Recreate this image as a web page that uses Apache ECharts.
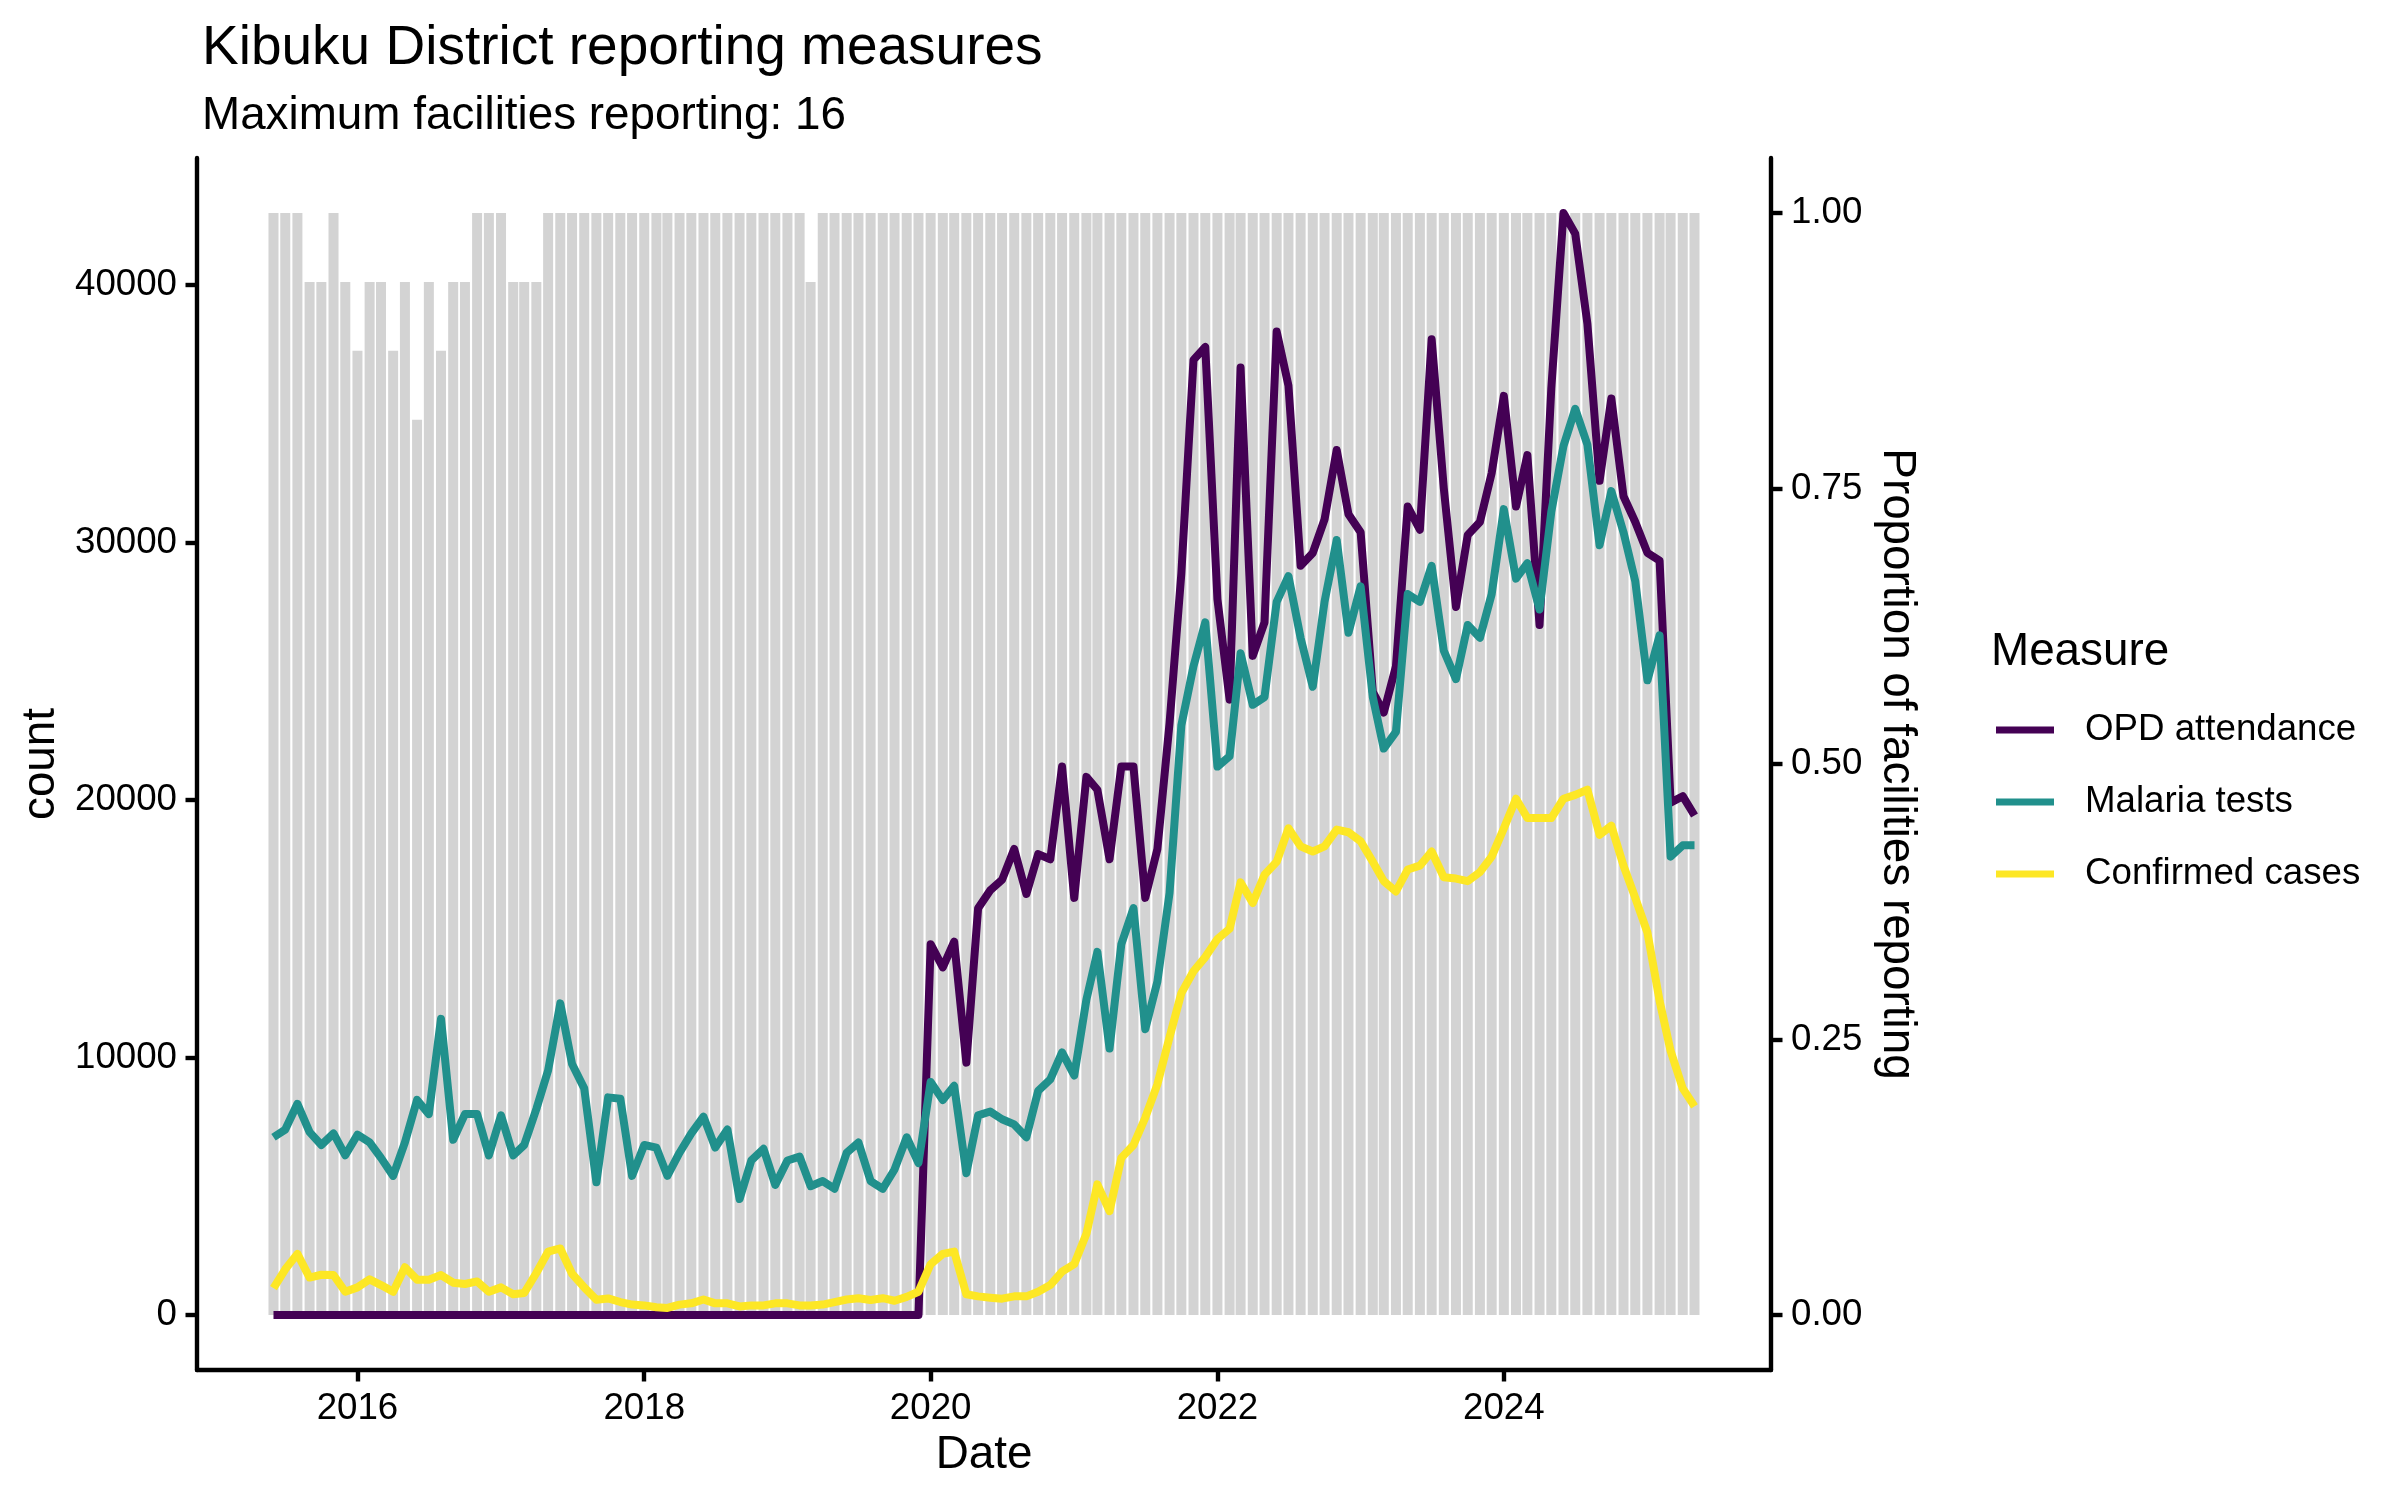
<!DOCTYPE html>
<html><head><meta charset="utf-8">
<script src="https://cdn.jsdelivr.net/npm/echarts@6/dist/echarts.min.js"></script>
<style>html,body{margin:0;padding:0;background:#fff}#c{width:2400px;height:1500px}</style>
</head><body><div id="c"></div>
<script>
const months = [
  '2015-06','2015-07','2015-08','2015-09','2015-10','2015-11','2015-12',
  '2016-01','2016-02','2016-03','2016-04','2016-05','2016-06','2016-07','2016-08','2016-09','2016-10','2016-11','2016-12',
  '2017-01','2017-02','2017-03','2017-04','2017-05','2017-06','2017-07','2017-08','2017-09','2017-10','2017-11','2017-12',
  '2018-01','2018-02','2018-03','2018-04','2018-05','2018-06','2018-07','2018-08','2018-09','2018-10','2018-11','2018-12',
  '2019-01','2019-02','2019-03','2019-04','2019-05','2019-06','2019-07','2019-08','2019-09','2019-10','2019-11','2019-12',
  '2020-01','2020-02','2020-03','2020-04','2020-05','2020-06','2020-07','2020-08','2020-09','2020-10','2020-11','2020-12',
  '2021-01','2021-02','2021-03','2021-04','2021-05','2021-06','2021-07','2021-08','2021-09','2021-10','2021-11','2021-12',
  '2022-01','2022-02','2022-03','2022-04','2022-05','2022-06','2022-07','2022-08','2022-09','2022-10','2022-11','2022-12',
  '2023-01','2023-02','2023-03','2023-04','2023-05','2023-06','2023-07','2023-08','2023-09','2023-10','2023-11','2023-12',
  '2024-01','2024-02','2024-03','2024-04','2024-05','2024-06','2024-07','2024-08','2024-09','2024-10','2024-11','2024-12',
  '2025-01','2025-02','2025-03','2025-04','2025-05'
];
const maxFacilities = 16;
const facilitiesReporting = [
  16,16,16,15,15,16,15,
  14,15,15,14,15,13,15,14,15,15,16,16,
  16,15,15,15,16,16,16,16,16,16,16,16,
  16,16,16,16,16,16,16,16,16,16,16,16,
  16,16,15,16,16,16,16,16,16,16,16,16,
  16,16,16,16,16,16,16,16,16,16,16,16,
  16,16,16,16,16,16,16,16,16,16,16,16,
  16,16,16,16,16,16,16,16,16,16,16,16,
  16,16,16,16,16,16,16,16,16,16,16,16,
  16,16,16,16,16,16,16,16,16,16,16,16,
  16,16,16,16,16
];
const opdAttendance = [
  0,0,0,0,0,0,0,
  0,0,0,0,0,0,0,0,0,0,0,0,
  0,0,0,0,0,0,0,0,0,0,0,0,
  0,0,0,0,0,0,0,0,0,0,0,0,
  0,0,0,0,0,0,0,0,0,0,0,0,
  14400,13500,14500,9800,15800,16500,16900,18100,16350,17900,17700,21300,
  16200,20900,20400,17700,21300,21300,16200,18100,23000,28800,37100,37600,
  27800,23900,36800,25600,26900,38200,36100,29100,29600,30900,33600,31100,
  30400,24200,23400,25200,31400,30500,37900,32100,27500,30300,30800,32700,
  35700,31400,33400,26800,36000,42800,42000,38500,32400,35600,31800,30800,
  29600,29300,19900,20150,19400
];
const malariaTests = [
  6900,7200,8200,7100,6600,7050,6200,
  7000,6700,6100,5400,6700,8350,7800,11500,6800,7800,7800,6200,
  7750,6200,6600,8000,9500,12100,9750,8800,5150,8450,8400,5400,
  6600,6500,5400,6300,7050,7700,6500,7200,4500,6000,6450,5050,
  6000,6150,5000,5200,4900,6300,6700,5200,4900,5650,6900,5900,
  9050,8350,8900,5500,7750,7900,7600,7400,6900,8700,9150,10200,
  9300,12250,14100,10350,14400,15800,11100,12950,16400,22900,25200,26900,
  21300,21700,25700,23700,24000,27700,28700,26300,24400,27700,30100,26500,
  28300,24000,22000,22650,28000,27700,29100,25800,24700,26800,26300,28000,
  31300,28600,29200,27400,31200,33750,35200,33800,29900,32000,30400,28500,
  24650,26400,17800,18240,18240
];
const confirmedCases = [
  1040,1770,2370,1450,1560,1550,900,
  1070,1380,1160,900,1850,1370,1370,1550,1250,1200,1300,900,
  1070,800,850,1630,2460,2580,1600,1070,590,640,500,400,
  370,300,270,400,450,600,450,450,330,370,370,450,
  450,370,370,400,500,600,650,580,650,550,700,900,
  1970,2370,2460,800,720,670,630,720,720,900,1160,1680,
  1970,3150,5070,4030,6100,6600,7660,8960,10800,12500,13350,13900,
  14600,15000,16800,16000,17100,17600,18900,18200,18000,18200,18850,18750,
  18400,17600,16850,16450,17300,17450,18000,17000,16950,16850,17200,17800,
  18900,20050,19300,19300,19300,20050,20200,20400,18650,19000,17450,16200,
  14850,12200,10260,8800,8100
];
const countTicks = [0, 10000, 20000, 30000, 40000];
const propTicks = [0, 0.25, 0.5, 0.75, 1];
const yearTicks = ['2016-01', '2018-01', '2020-01', '2022-01', '2024-01'];

const FONT = "'Liberation Sans', Arial, Helvetica, sans-serif";
const ts = s => { const [y, m] = s.split('-').map(Number); return Date.UTC(y, m - 1, 1); };
const DAY = 86400000;
const first = ts(months[0]), last = ts(months[months.length - 1]);
const half = 12.6 * DAY;
const span = (last - first) + 2 * half;
const xMin = first - half - 0.05 * span;
const xMax = last + half + 0.05 * span;
const S = Math.max(...opdAttendance);

const axisLineStyle = { color: '#000', width: 4.4 };
const LW = 8;
const chart = echarts.init(document.getElementById('c'), null, { renderer: 'canvas' });
chart.setOption({
  animation: false,
  backgroundColor: '#fff',
  textStyle: { fontFamily: FONT },
  title: [
    { text: 'Kibuku District reporting measures', left: 197, top: 16,
      textStyle: { fontFamily: FONT, fontSize: 55, fontWeight: 'normal', color: '#000' } },
    { text: 'Maximum facilities reporting: 16', left: 197, top: 88,
      textStyle: { fontFamily: FONT, fontSize: 45.8, fontWeight: 'normal', color: '#000' } },
    { text: 'Measure', left: 1986, top: 624,
      textStyle: { fontFamily: FONT, fontSize: 45.8, fontWeight: 'normal', color: '#000' } }
  ],
  legend: {
    data: ['OPD attendance', 'Malaria tests', 'Confirmed cases'],
    orient: 'vertical', left: 1991, top: 705,
    icon: 'rect', itemWidth: 58, itemHeight: 7, itemGap: 32,
    textStyle: { fontFamily: FONT, fontSize: 36.7, color: '#000', lineHeight: 40, padding: [0, 0, 0, 26] }
  },
  grid: { left: 197, right: 629, top: 158, bottom: 130, containLabel: false },
  xAxis: {
    type: 'value', min: xMin, max: xMax, scale: true,
    name: 'Date', nameLocation: 'middle', nameGap: 58,
    nameTextStyle: { fontFamily: FONT, fontSize: 45.8, color: '#000' },
    axisLine: { onZero: false, lineStyle: axisLineStyle },
    axisTick: { show: true, length: 11.5, lineStyle: axisLineStyle, customValues: yearTicks.map(ts) },
    axisLabel: { customValues: yearTicks.map(ts), formatter: v => String(new Date(v).getUTCFullYear()),
      fontFamily: FONT, fontSize: 36.7, color: '#000', margin: 20 },
    splitLine: { show: false }
  },
  yAxis: [
    {
      type: 'value', min: -0.05 * S, max: 1.05 * S, position: 'left',
      name: 'count', nameLocation: 'middle', nameGap: 126, nameRotate: 90,
      nameTextStyle: { fontFamily: FONT, fontSize: 45.8, color: '#000' },
      axisLine: { show: true, onZero: false, lineStyle: axisLineStyle },
      axisTick: { show: true, length: 11.5, lineStyle: axisLineStyle, customValues: countTicks },
      axisLabel: { customValues: countTicks, formatter: v => String(v),
        fontFamily: FONT, fontSize: 36.7, color: '#000', margin: 20 },
      splitLine: { show: false }
    },
    {
      type: 'value', min: -0.05, max: 1.05, position: 'right',
      name: 'Proportion of facilities reporting', nameLocation: 'middle', nameGap: 101, nameRotate: -90,
      nameTextStyle: { fontFamily: FONT, fontSize: 45.8, color: '#000' },
      axisLine: { show: true, onZero: false, lineStyle: axisLineStyle },
      axisTick: { show: true, length: 11.5, lineStyle: axisLineStyle, customValues: propTicks },
      axisLabel: { customValues: propTicks, formatter: v => v.toFixed(2),
        fontFamily: FONT, fontSize: 36.7, color: '#000', margin: 20 },
      splitLine: { show: false }
    }
  ],
  series: [
    { name: 'Proportion reporting', type: 'bar', xAxisIndex: 0, yAxisIndex: 1, barWidth: 10,
      itemStyle: { color: '#D3D3D3' }, silent: true, z: 1,
      data: months.map((m, i) => [ts(m), facilitiesReporting[i] / maxFacilities]) },
    { name: 'OPD attendance', type: 'line', yAxisIndex: 0, showSymbol: false, symbol: 'none', z: 3,
      itemStyle: { color: '#440154' }, lineStyle: { color: '#440154', width: LW, join: 'round', cap: 'butt' },
      data: months.map((m, i) => [ts(m), opdAttendance[i]]) },
    { name: 'Malaria tests', type: 'line', yAxisIndex: 0, showSymbol: false, symbol: 'none', z: 3,
      itemStyle: { color: '#21908C' }, lineStyle: { color: '#21908C', width: LW, join: 'round', cap: 'butt' },
      data: months.map((m, i) => [ts(m), malariaTests[i]]) },
    { name: 'Confirmed cases', type: 'line', yAxisIndex: 0, showSymbol: false, symbol: 'none', z: 3,
      itemStyle: { color: '#FDE725' }, lineStyle: { color: '#FDE725', width: LW, join: 'round', cap: 'butt' },
      data: months.map((m, i) => [ts(m), confirmedCases[i]]) }
  ]
});
</script></body></html>
